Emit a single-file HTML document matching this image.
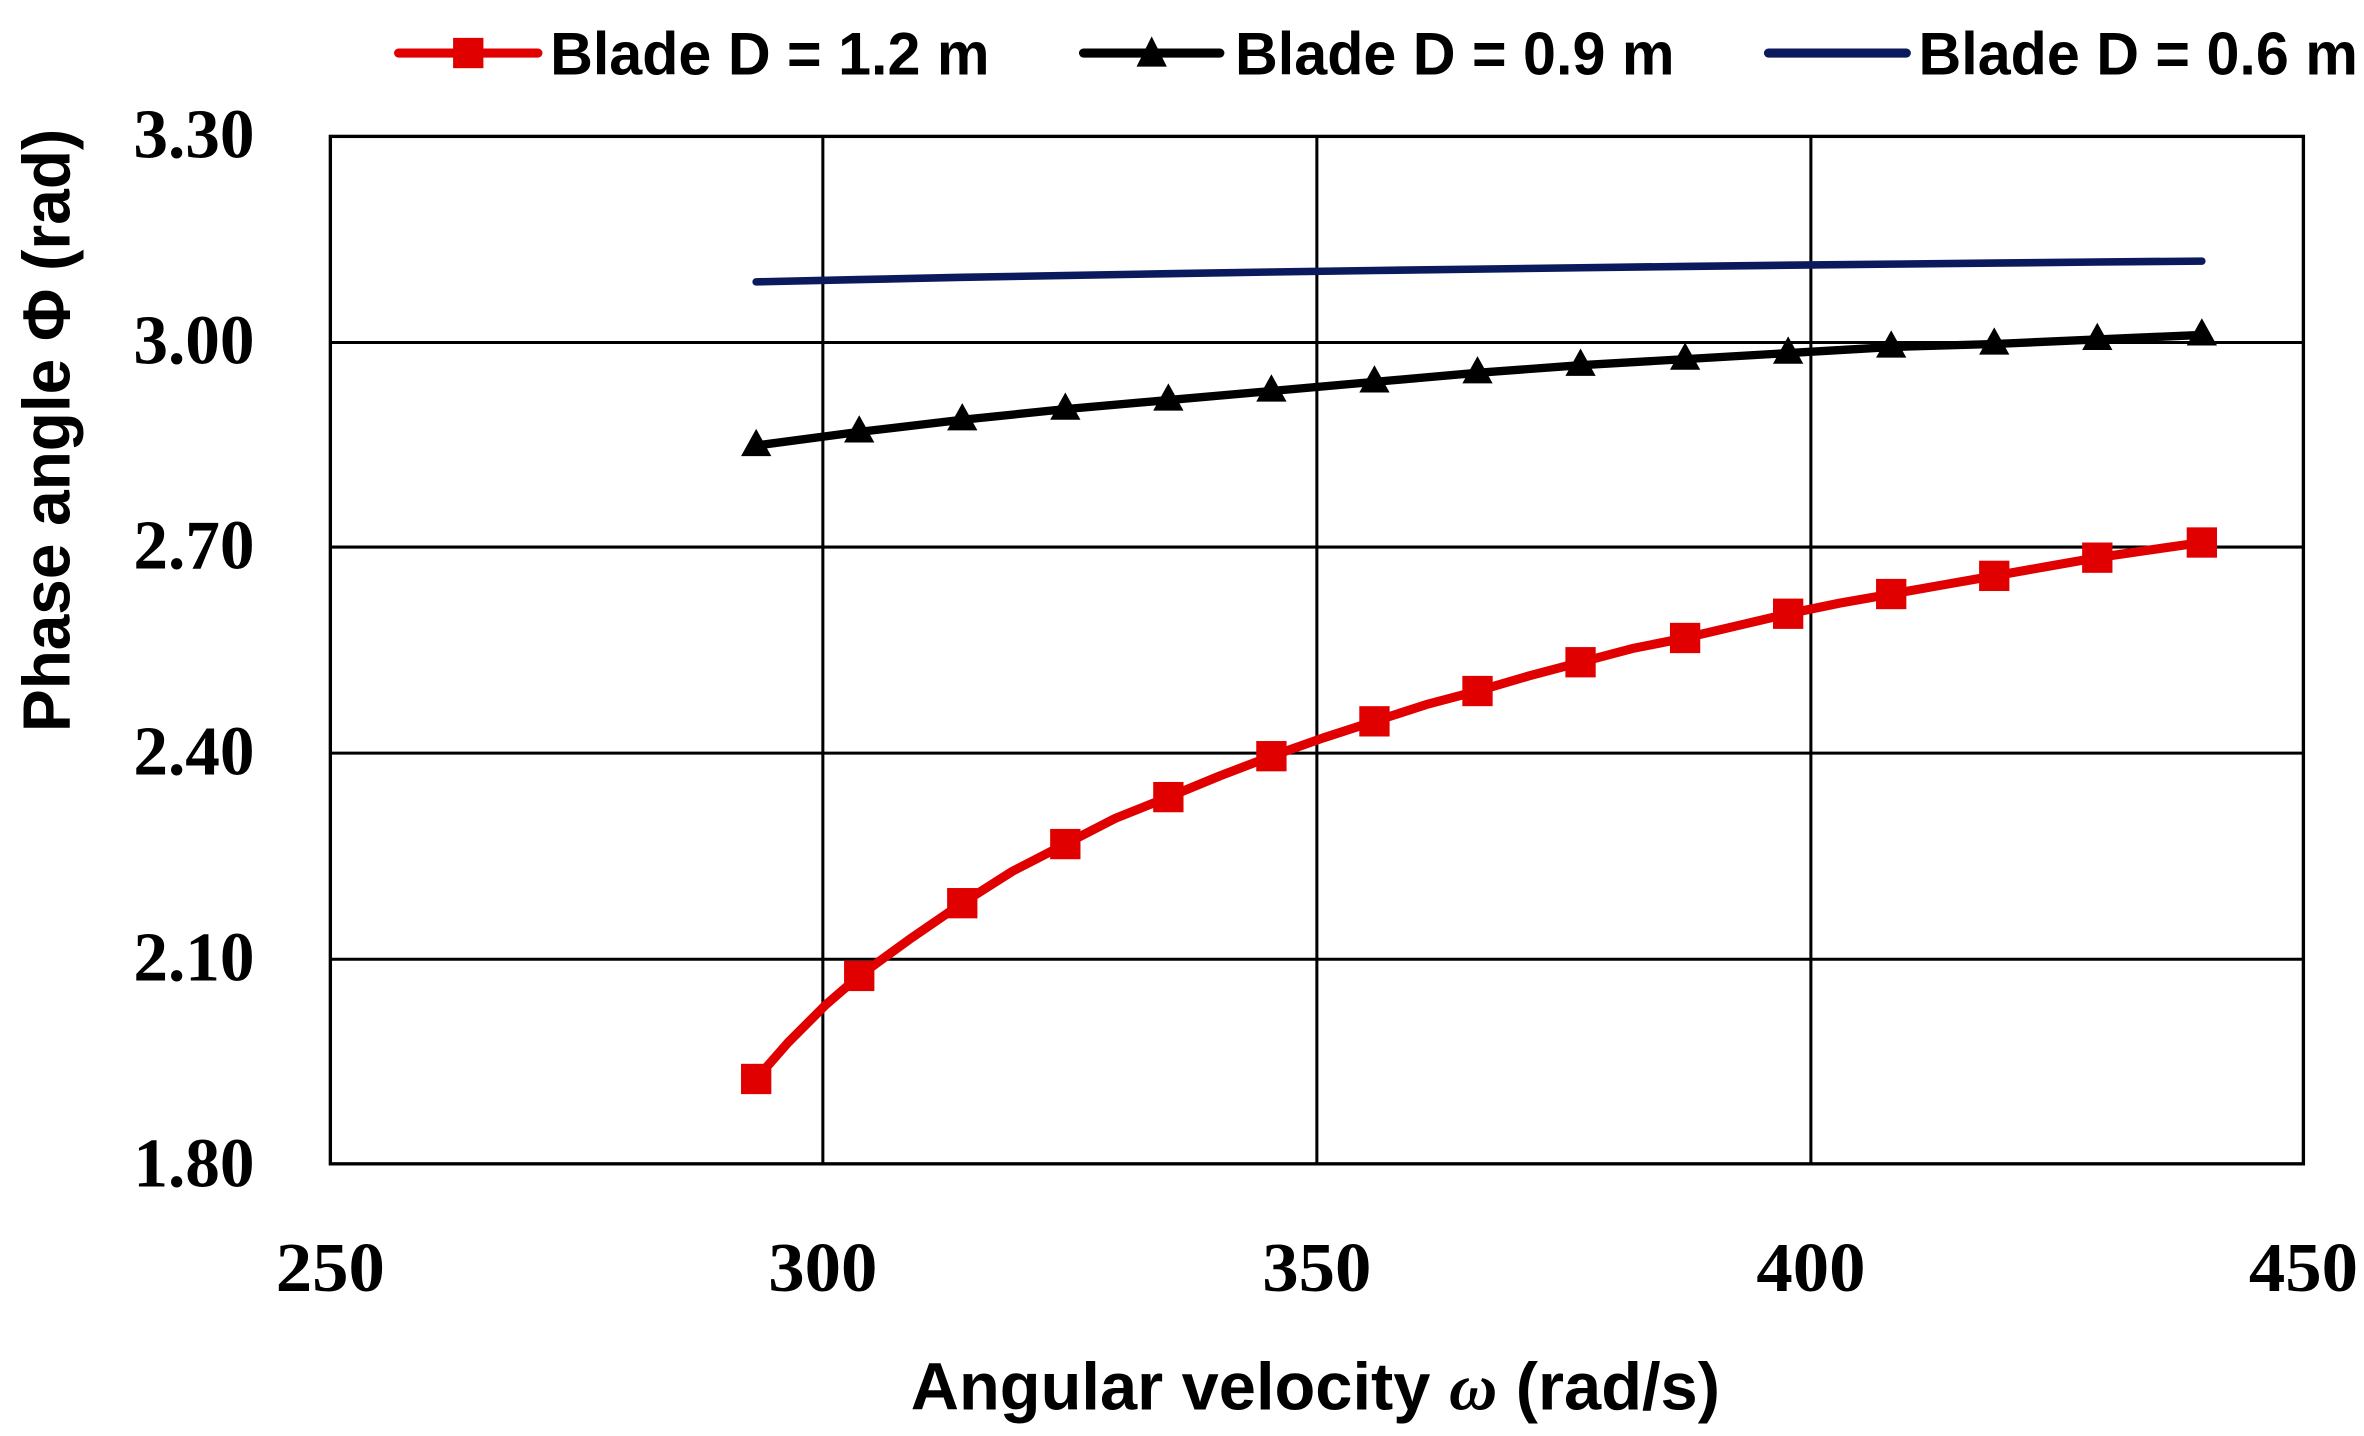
<!DOCTYPE html>
<html><head><meta charset="utf-8"><style>html,body{margin:0;padding:0;background:#fff}svg{display:block}</style></head>
<body>
<svg width="2364" height="1436" viewBox="0 0 1560 947.6" preserveAspectRatio="none" xmlns="http://www.w3.org/2000/svg">
<rect width="1560" height="948" fill="#fff"/>
<g stroke="#000" stroke-width="2" fill="none">
<line x1="543" y1="90" x2="543" y2="768"/>
<line x1="869" y1="90" x2="869" y2="768"/>
<line x1="1195" y1="90" x2="1195" y2="768"/>
<line x1="218" y1="226" x2="1520" y2="226"/>
<line x1="218" y1="361" x2="1520" y2="361"/>
<line x1="218" y1="497" x2="1520" y2="497"/>
<line x1="218" y1="633" x2="1520" y2="633"/>
<rect x="218" y="90" width="1302" height="678" stroke-width="2.2"/>
</g>
<g font-family="Liberation Serif, serif" font-weight="bold" font-size="46" fill="#000">
<g text-anchor="end">
<text x="168" y="104" textLength="80" lengthAdjust="spacingAndGlyphs">3.30</text>
<text x="168" y="240" textLength="80" lengthAdjust="spacingAndGlyphs">3.00</text>
<text x="168" y="375" textLength="80" lengthAdjust="spacingAndGlyphs">2.70</text>
<text x="168" y="511" textLength="80" lengthAdjust="spacingAndGlyphs">2.40</text>
<text x="168" y="647" textLength="80" lengthAdjust="spacingAndGlyphs">2.10</text>
<text x="168" y="783" textLength="80" lengthAdjust="spacingAndGlyphs">1.80</text>
</g>
<g text-anchor="middle">
<text x="218" y="852" textLength="72" lengthAdjust="spacingAndGlyphs">250</text>
<text x="543" y="852" textLength="72" lengthAdjust="spacingAndGlyphs">300</text>
<text x="869" y="852" textLength="72" lengthAdjust="spacingAndGlyphs">350</text>
<text x="1195" y="852" textLength="72" lengthAdjust="spacingAndGlyphs">400</text>
<text x="1520" y="852" textLength="72" lengthAdjust="spacingAndGlyphs">450</text>
</g>
</g>
<g font-family="Liberation Sans, sans-serif" font-weight="bold" font-size="44" fill="#000">
<text x="601" y="930" textLength="534" lengthAdjust="spacingAndGlyphs">Angular velocity <tspan font-style="italic" font-family="Liberation Serif, serif">ω</tspan> (rad/s)</text>
<text transform="translate(46,483) rotate(-90)" x="0" y="0" textLength="398" lengthAdjust="spacingAndGlyphs">Phase angle Φ (rad)</text>
<text x="363" y="49" textLength="290" lengthAdjust="spacingAndGlyphs" font-size="40">Blade D = 1.2 m</text>
<text x="815" y="49" textLength="290" lengthAdjust="spacingAndGlyphs" font-size="40">Blade D = 0.9 m</text>
<text x="1266" y="49" textLength="290" lengthAdjust="spacingAndGlyphs" font-size="40">Blade D = 0.6 m</text>
</g>
<line x1="263" y1="35" x2="355" y2="35" stroke="#e00000" stroke-width="6" stroke-linecap="round"/>
<rect x="299" y="25" width="20" height="20" fill="#e00000"/>
<line x1="715" y1="35" x2="805" y2="35" stroke="#000" stroke-width="6" stroke-linecap="round"/>
<polygon points="760,24 770,44 750,44" fill="#000"/>
<line x1="1167" y1="35" x2="1258" y2="35" stroke="#0a1a5c" stroke-width="6" stroke-linecap="round"/>
<polyline fill="none" stroke="#0a1a5c" stroke-width="5" stroke-linecap="round" points="499,186 567,184.5 635,183 703,181.8 771,180.6 839,179.5 907,178.5 975,177.6 1043,176.7 1112,175.8 1180,175 1248,174.3 1316,173.6 1384,172.9 1453,172.3"/>
<polyline fill="none" stroke="#000" stroke-width="5.5" stroke-linejoin="round" points="499,294 567,285 635,277 703,270 771,264 839,258 907,252 975,246 1043,241 1112,237 1180,233 1248,229 1316,227 1384,224 1453,221"/>
<g fill="#000">
<polygon points="499,283 509,301 489,301"/><polygon points="567,274 577,292 557,292"/><polygon points="635,266 645,284 625,284"/><polygon points="703,259 713,277 693,277"/><polygon points="771,253 781,271 761,271"/><polygon points="839,247 849,265 829,265"/><polygon points="907,241 917,259 897,259"/><polygon points="975,235 985,253 965,253"/><polygon points="1043,230 1053,248 1033,248"/><polygon points="1112,226 1122,244 1102,244"/><polygon points="1180,222 1190,240 1170,240"/><polygon points="1248,218 1258,236 1238,236"/><polygon points="1316,216 1326,234 1306,234"/><polygon points="1384,213 1394,231 1374,231"/><polygon points="1453,210 1463,228 1443,228"/>
</g>
<polyline fill="none" stroke="#e00000" stroke-width="6" stroke-linejoin="round" points="499,712 520,688 545,663 567,644 600,620 635,596 668,575 703,557 736,540 771,526 805,512 839,499 873,487 907,476 941,465 975,456 1009,446 1043,437 1077,428 1112,421 1146,413 1180,405 1214,398 1248,392 1282,386 1316,380 1350,374 1384,368 1418,363 1453,358"/>
<g fill="#e00000">
<rect x="489" y="702" width="20" height="20"/><rect x="557" y="634" width="20" height="20"/><rect x="625" y="586" width="20" height="20"/><rect x="693" y="547" width="20" height="20"/><rect x="761" y="516" width="20" height="20"/><rect x="829" y="489" width="20" height="20"/><rect x="897" y="466" width="20" height="20"/><rect x="965" y="446" width="20" height="20"/><rect x="1033" y="427" width="20" height="20"/><rect x="1102" y="411" width="20" height="20"/><rect x="1170" y="395" width="20" height="20"/><rect x="1238" y="382" width="20" height="20"/><rect x="1306" y="370" width="20" height="20"/><rect x="1374" y="358" width="20" height="20"/><rect x="1443" y="348" width="20" height="20"/>
</g>
</svg>
</body></html>
